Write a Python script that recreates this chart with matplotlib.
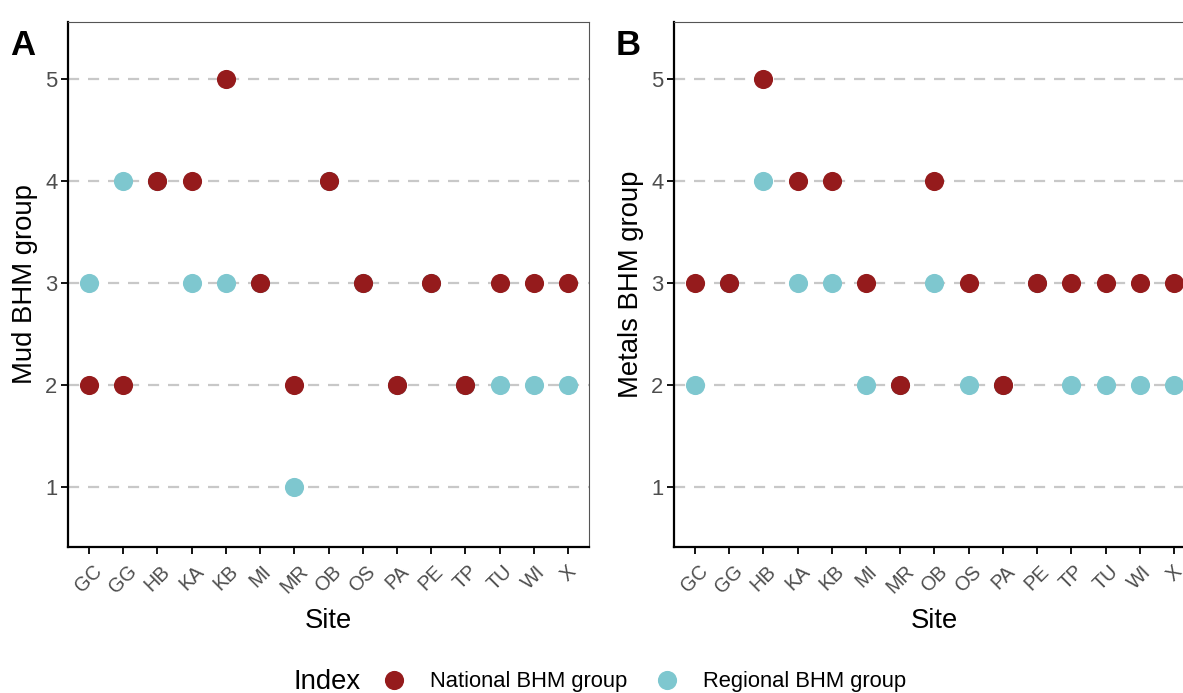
import matplotlib
matplotlib.use("Agg")
from matplotlib import pyplot as plt
from matplotlib.lines import Line2D

sites = ["GC", "GG", "HB", "KA", "KB", "MI", "MR", "OB", "OS", "PA", "PE", "TP", "TU", "WI", "X"]

mud_national = [2, 2, 4, 4, 5, 3, 2, 4, 3, 2, 3, 2, 3, 3, 3]
mud_regional = [3, 4, 4, 3, 3, 3, 1, 4, 3, 2, 3, 2, 2, 2, 2]

metals_national = [3, 3, 5, 4, 4, 3, 2, 4, 3, 2, 3, 3, 3, 3, 3]
metals_regional = [2, 3, 4, 3, 3, 2, 2, 3, 2, 2, 3, 2, 2, 2, 2]

y_ticks = [1, 2, 3, 4, 5]

NATIONAL = "#951b1c"
REGIONAL = "#7ec7cf"

plt.rcParams["font.family"] = ["Liberation Sans", "DejaVu Sans"]

fig = plt.figure(figsize=(11.83, 6.93), dpi=100)


def draw_panel(rect, national, regional, ylabel, tag):
    ax = fig.add_axes(rect)
    x = list(range(len(sites)))
    for yv in y_ticks:
        ax.axhline(yv, color="#c8c8c8", lw=1.6, ls=(0, (5, 4)), zorder=1)
    ax.scatter(x, regional, s=190, color=REGIONAL, linewidths=0, zorder=3)
    ax.scatter(x, national, s=190, color=NATIONAL, linewidths=0, zorder=4)
    ax.set_xlim(-0.61, len(sites) - 1 + 0.61)
    ax.set_ylim(0.41, 5.56)
    ax.set_xticks(x)
    ax.set_xticklabels(sites, rotation=45, ha="center", va="top")
    ax.set_yticks(y_ticks)
    ax.tick_params(axis="both", length=4.7, width=1.3, color="black")
    ax.tick_params(axis="y", labelsize=15.8, labelcolor="#4d4d4d", pad=3)
    ax.tick_params(axis="x", labelsize=14.2, labelcolor="#4d4d4d", pad=6)
    for s in ["top", "right"]:
        ax.spines[s].set_color("#555555")
        ax.spines[s].set_linewidth(0.8)
    for s in ["left", "bottom"]:
        ax.spines[s].set_color("black")
        ax.spines[s].set_linewidth(1.6)
    ax.set_xlabel("Site", fontsize=19.8, labelpad=8)
    ax.set_ylabel(ylabel, fontsize=19.8, labelpad=5)
    fig.text(rect[0] - 0.049, 0.935, tag, fontsize=25, fontweight="bold",
             ha="left", va="center")
    return ax


draw_panel([0.0575, 0.2107, 0.4404, 0.7576], mud_national, mud_regional,
           "Mud BHM group", "A")
draw_panel([0.5697, 0.2107, 0.4404, 0.7576], metals_national, metals_regional,
           "Metals BHM group", "B")

handles = [
    Line2D([], [], marker="o", ls="none", markersize=13.8, color=NATIONAL, markeredgewidth=0),
    Line2D([], [], marker="o", ls="none", markersize=13.8, color=REGIONAL, markeredgewidth=0),
]
fig.legend(handles, ["National BHM group", "Regional BHM group"], ncol=2,
           loc="center left", bbox_to_anchor=(0.3238, 1 - 682 / 693),
           frameon=False, fontsize=15.8, handlelength=1.0, handletextpad=1.14,
           columnspacing=1.3, borderpad=0, borderaxespad=0)
fig.text(327 / 1183, 1 - 682 / 693, "Index", fontsize=19.8, ha="center", va="center")

fig.savefig("out.png", dpi=100)
